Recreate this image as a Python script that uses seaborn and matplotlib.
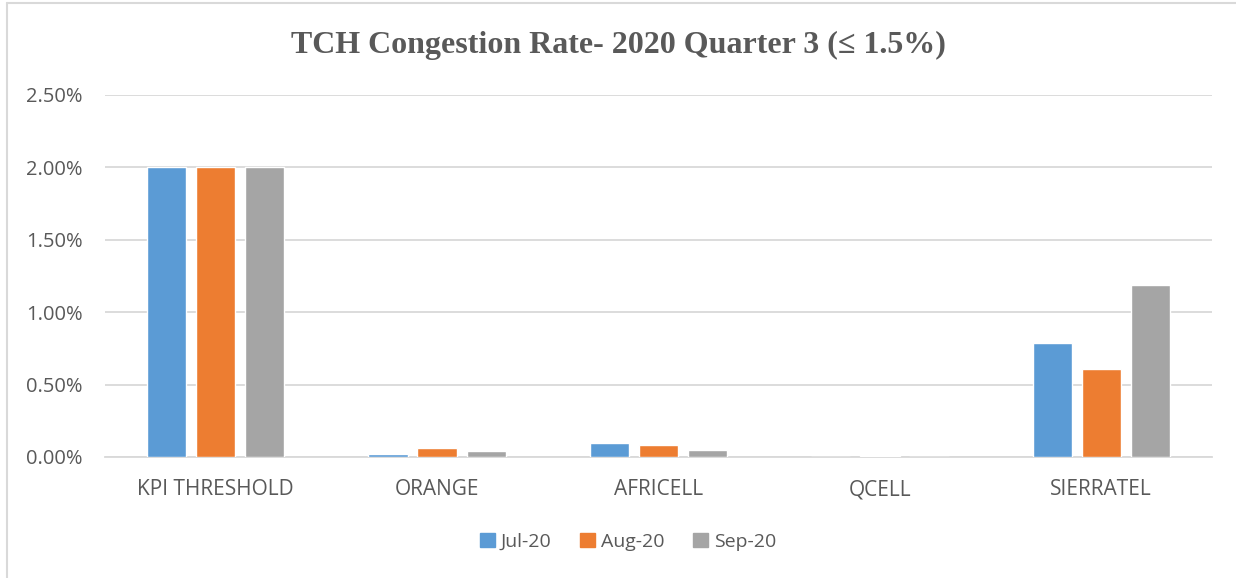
import pandas as pd
import numpy as np
import matplotlib.pyplot as plt
import seaborn as sns
from matplotlib.ticker import PercentFormatter
from matplotlib.lines import Line2D

# Chart data (values in %)
operators = ['KPI THRESHOLD', 'ORANGE', 'AFRICELL', 'QCELL', 'SIERRATEL']
months = ['Jul-20', 'Aug-20', 'Sep-20']
jul_20 = [2.00, 0.02, 0.10, 0.00, 0.79]
aug_20 = [2.00, 0.06, 0.08, 0.01, 0.61]
sep_20 = [2.00, 0.04, 0.05, 0.00, 1.19]

colors = ['#5B9BD5', '#ED7D31', '#A5A5A5']
text_color = '#595959'
grid_color = '#D9D9D9'

# Long format for seaborn
df = pd.DataFrame({
    'Operator': operators * 3,
    'Month': [m for m in months for _ in operators],
    'Rate': jul_20 + aug_20 + sep_20,
})

sns.set_style('white')
plt.rcParams['font.family'] = ['Open Sans', 'DejaVu Sans']

fig = plt.figure(figsize=(12.36, 5.78), dpi=100)
ax = fig.add_axes([105 / 1236, 1 - 457 / 578, 1107 / 1236, 362 / 578])

sns.barplot(data=df, x='Operator', y='Rate', hue='Month', order=operators,
            hue_order=months, palette=colors, width=0.664, gap=0.2,
            saturation=1, ax=ax, legend=False, zorder=3)

ax.set_ylim(0, 2.5)
ax.set_xlim(-0.5, 4.5)
ax.set_yticks(np.arange(0, 2.51, 0.5))
ax.yaxis.set_major_formatter(PercentFormatter(decimals=2))
ax.grid(axis='y', color=grid_color, linewidth=1.3, zorder=0)
ax.set_axisbelow(True)
for s in ['top', 'right', 'left']:
    ax.spines[s].set_visible(False)
ax.spines['bottom'].set_color(grid_color)
ax.spines['bottom'].set_linewidth(1.3)
ax.tick_params(axis='x', length=0, labelsize=15, colors=text_color, pad=16)
ax.tick_params(axis='y', length=0, labelsize=14.5, colors=text_color, pad=16)
ax.set_xlabel('')
ax.set_ylabel('')

fig.text(0.5, 1 - 45 / 578, 'TCH Congestion Rate- 2020 Quarter 3 (≤ 1.5%)',
         ha='center', va='center', fontsize=23, fontweight='bold',
         family=['Liberation Serif', 'DejaVu Serif'], color=text_color)

handles = [plt.Rectangle((0, 0), 1, 1, color=c) for c in colors]
fig.legend(handles, months, loc='center', bbox_to_anchor=(628 / 1236, 1 - 542 / 578),
           ncol=3, frameon=False, fontsize=14, labelcolor=text_color,
           handlelength=0.75, handleheight=0.75, handletextpad=0.3, columnspacing=1.5)

# Chart frame (left and top edges visible in the reference)
fig.add_artist(Line2D([7 / 1236, 7 / 1236], [0, 1 - 3 / 578], color=grid_color,
                      linewidth=1.5, transform=fig.transFigure))
fig.add_artist(Line2D([7 / 1236, 1], [1 - 3 / 578, 1 - 3 / 578], color=grid_color,
                      linewidth=1.5, transform=fig.transFigure))

fig.savefig('out.png', dpi=100)
